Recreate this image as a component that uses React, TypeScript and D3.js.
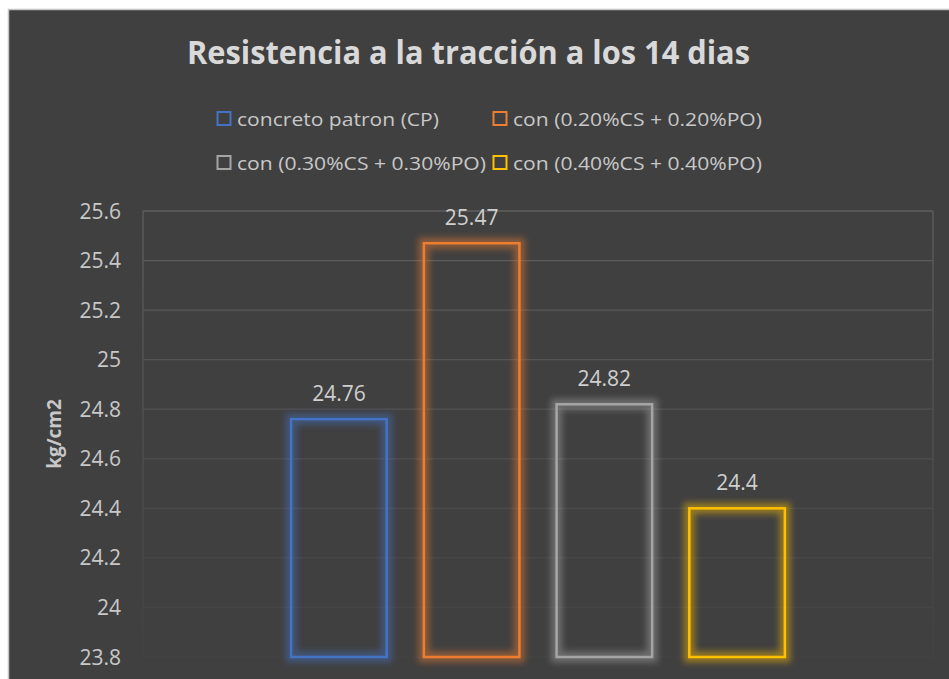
import * as d3 from "d3";

const title = "Resistencia a la tracción a los 14 dias";
const yAxisTitle = "kg/cm2";
const seriesNames = [
  "concreto patron (CP)",
  "con (0.20%CS + 0.20%PO)",
  "con (0.30%CS + 0.30%PO)",
  "con (0.40%CS + 0.40%PO)",
];
const seriesColors = ["#4472C4", "#ED7D31", "#A5A5A5", "#FFC000"];
const values = [24.76, 25.47, 24.82, 24.4];
const categories = ["14 dias"];
const yDomain = [23.8, 25.6];

export default function App() {
  const width = 949;
  const height = 679;
  const plot = { left: 143, right: 933, top: 211, bottom: 657 };

  const yScale = d3.scaleLinear().domain(yDomain).range([plot.bottom, plot.top]);
  const yTicks = yScale.ticks(10);

  const x0 = d3
    .scaleBand()
    .domain(categories)
    .range([plot.left, plot.right])
    .paddingOuter(0.3)
    .paddingInner(0);

  const x1 = d3
    .scaleBand()
    .domain(seriesNames)
    .range([0, x0.bandwidth()])
    .paddingInner(0.28)
    .paddingOuter(0);

  const labelFont = "'Open Sans', 'Noto Sans', sans-serif";
  const legendFont = "'Open Sans', sans-serif";

  // legend layout: 2 x 2
  const legendCols = [217, 493];
  const legendRows = [126, 170];
  const legendTextLen = [202, 249, 249, 249];

  return (
    <svg
      width={width}
      height={height}
      style={{ position: "absolute", left: 0, top: 0 }}
    >
      <defs>
        <linearGradient
          id="gridFade"
          gradientUnits="userSpaceOnUse"
          x1="0"
          y1={plot.top}
          x2="0"
          y2={plot.bottom}
        >
          <stop offset="0" stopColor="#5e5e5e" />
          <stop offset="1" stopColor="#424242" />
        </linearGradient>
        <filter id="glow" x="-30%" y="-30%" width="160%" height="160%">
          <feGaussianBlur stdDeviation="3" />
        </filter>
      </defs>

      <rect x={0} y={0} width={width} height={height} fill="#ffffff" />
      <rect
        x={8.5}
        y={9.5}
        width={width}
        height={height}
        fill="#404040"
        stroke="#c4c4c4"
        strokeWidth={1.5}
      />

      {/* Title */}
      <text
        x={468.5}
        y={64}
        textAnchor="middle"
        fontFamily="'Liberation Sans Narrow', 'Open Sans', sans-serif"
        fontWeight="bold"
        fontSize={32}
        fill="#d9d9d9"
        textLength={563}
        lengthAdjust="spacingAndGlyphs"
      >
        {title}
      </text>

      {/* Legend */}
      {seriesNames.map((name, i) => {
        const col = i % 2;
        const row = Math.floor(i / 2);
        const lx = legendCols[col];
        const ly = legendRows[row];
        return (
          <g key={name}>
            <rect
              x={lx + 0.5}
              y={ly - 14}
              width={13}
              height={13}
              fill="none"
              stroke={seriesColors[i]}
              strokeWidth={2}
            />
            <text
              x={lx + 20}
              y={ly}
              fontFamily={legendFont}
              fontSize={19}
              fill="#c8c8c8"
              textLength={legendTextLen[i]}
              lengthAdjust="spacingAndGlyphs"
            >
              {name}
            </text>
          </g>
        );
      })}

      {/* Gridlines */}
      <g>
        {yTicks.map((t) => (
          <line
            key={t}
            x1={plot.left}
            x2={plot.right}
            y1={yScale(t)}
            y2={yScale(t)}
            stroke="url(#gridFade)"
            strokeWidth={1.3}
          />
        ))}
        <line
          x1={plot.left}
          x2={plot.left}
          y1={plot.top}
          y2={plot.bottom}
          stroke="url(#gridFade)"
          strokeWidth={1.3}
        />
        <line
          x1={plot.right}
          x2={plot.right}
          y1={plot.top}
          y2={plot.bottom}
          stroke="url(#gridFade)"
          strokeWidth={1.3}
        />
      </g>

      {/* Y axis labels */}
      <g fontFamily={labelFont} fontSize={21} fill="#c8c8c8">
        {yTicks.map((t) => (
          <text key={t} x={121} y={yScale(t)} dy="0.36em" textAnchor="end">
            {String(+t.toFixed(1))}
          </text>
        ))}
      </g>
      <text
        transform={`translate(61, ${(plot.top + plot.bottom) / 2}) rotate(-90)`}
        textAnchor="middle"
        fontFamily={labelFont}
        fontWeight="bold"
        fontSize={19}
        fill="#c8c8c8"
      >
        {yAxisTitle}
      </text>

      {/* Bars */}
      {categories.map((c) => (
        <g key={c} transform={`translate(${x0(c)},0)`}>
          {seriesNames.map((s, i) => {
            const bx = x1(s)!;
            const by = yScale(values[i]);
            const bw = x1.bandwidth();
            const bh = plot.bottom - by;
            return (
              <g key={s}>
                <rect
                  x={bx}
                  y={by}
                  width={bw}
                  height={bh}
                  fill="none"
                  stroke={seriesColors[i]}
                  strokeWidth={11}
                  opacity={0.45}
                  filter="url(#glow)"
                />
                <rect
                  x={bx}
                  y={by}
                  width={bw}
                  height={bh}
                  fill="none"
                  stroke={seriesColors[i]}
                  strokeWidth={2.5}
                />
                <text
                  x={bx + bw / 2}
                  y={by - 18}
                  textAnchor="middle"
                  fontFamily={labelFont}
                  fontSize={21}
                  fill="#cfcfcf"
                >
                  {values[i]}
                </text>
              </g>
            );
          })}
        </g>
      ))}
    </svg>
  );
}
